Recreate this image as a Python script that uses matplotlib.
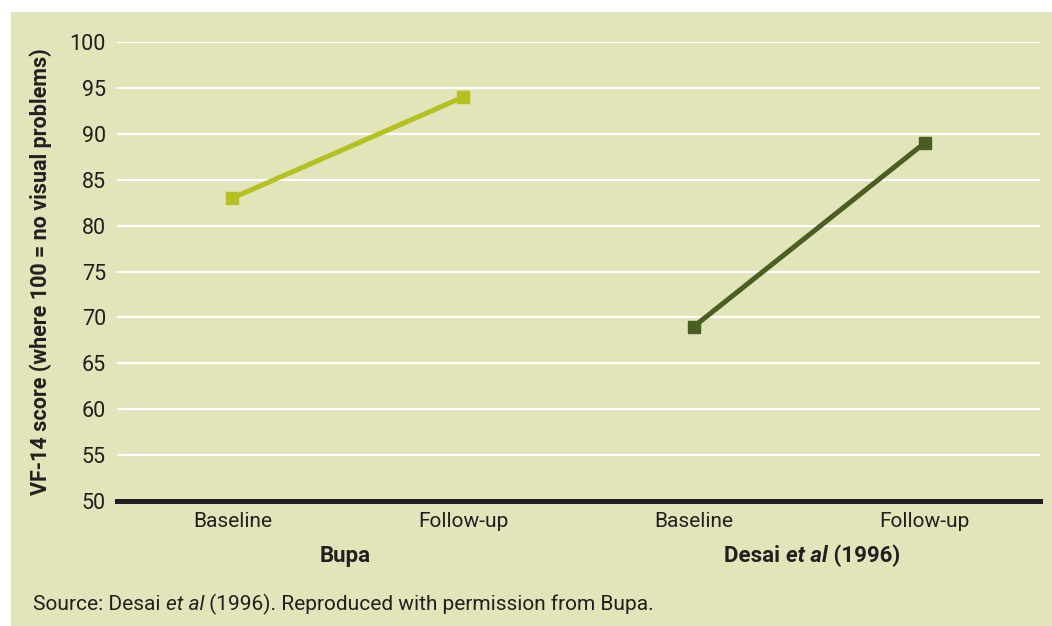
import matplotlib
matplotlib.use('Agg')
import matplotlib.pyplot as plt
from matplotlib.patches import Rectangle

# data
categories = ['Baseline', 'Follow-up', 'Baseline', 'Follow-up']
groups = ['Bupa', 'Desai et al (1996)']
bupa_scores = [83, 94]
desai_scores = [69, 89]
yticks = list(range(50, 101, 5))

BG = '#e2e4b9'
LIGHT = '#b4c11f'
DARK = '#4a5e22'
INK = '#231f20'

plt.rcParams['font.family'] = ['Roboto', 'DejaVu Sans']


def rich_text(fig, x, y, parts, ha='left', size=13):
    """Draw a row of differently styled text parts, in figure coords."""
    renderer = fig.canvas.get_renderer()
    texts = []
    for s, weight, style in parts:
        t = fig.text(0, y, s, fontsize=size, fontweight=weight,
                     fontstyle=style, color=INK, va='center', ha='left')
        texts.append(t)
    widths = [t.get_window_extent(renderer).width / fig.bbox.width
              for t in texts]
    total = sum(widths)
    x0 = x - total / 2 if ha == 'center' else x
    for t, w in zip(texts, widths):
        t.set_x(x0)
        x0 += w


def main():
    fig = plt.figure(figsize=(10.52, 6.26), dpi=100)
    fig.patches.append(Rectangle((11 / 1052, 0), 1, 1 - 12 / 626,
                                 transform=fig.transFigure, facecolor=BG,
                                 edgecolor='none', zorder=-10))

    ax = fig.add_axes([117 / 1052, 1 - 501 / 626,
                       (1040 - 117) / 1052, (501 - 42) / 626])
    ax.set_facecolor('none')

    # lines
    ax.plot([0, 1], bupa_scores, color=LIGHT, lw=3.6, marker='s', ms=8,
            zorder=3, clip_on=False)
    ax.plot([2, 3], desai_scores, color=DARK, lw=3.6, marker='s', ms=8,
            zorder=3, clip_on=False)

    # axes
    ax.set_xlim(-0.5, 3.5)
    ax.set_ylim(50, 100)
    ax.set_yticks(yticks)
    ax.set_xticks(range(len(categories)))
    ax.set_xticklabels(categories)
    ax.tick_params(axis='both', length=0, labelsize=15.5, colors=INK)
    ax.tick_params(axis='x', labelsize=15, pad=8)
    ax.tick_params(axis='y', pad=8)
    for sp in ['top', 'right', 'left']:
        ax.spines[sp].set_visible(False)
    ax.spines['bottom'].set_linewidth(3.6)
    ax.spines['bottom'].set_color(INK)
    ax.spines['bottom'].set_zorder(4)
    for yv in yticks[1:]:
        ax.axhline(yv, color='white', lw=1.6, zorder=1)

    fig.text(41 / 1052, 1 - 272 / 626,
             'VF-14 score (where 100 = no visual problems)', rotation=90,
             fontsize=15.5, fontweight='bold', color=INK,
             ha='center', va='center')

    # group labels and source
    fig.canvas.draw()
    rich_text(fig, 345 / 1052, 1 - 556 / 626,
              [(groups[0], 'bold', 'normal')], ha='center', size=16)
    rich_text(fig, 812 / 1052, 1 - 556 / 626,
              [('Desai ', 'bold', 'normal'), ('et al', 'bold', 'italic'),
               (' (1996)', 'bold', 'normal')], ha='center', size=16)
    rich_text(fig, 33 / 1052, 1 - 604 / 626,
              [('Source: Desai ', 'normal', 'normal'),
               ('et al', 'normal', 'italic'),
               (' (1996). Reproduced with permission from Bupa.',
                'normal', 'normal')], size=15)

    fig.savefig('out.png', dpi=100, facecolor='white')


if __name__ == '__main__':
    main()
